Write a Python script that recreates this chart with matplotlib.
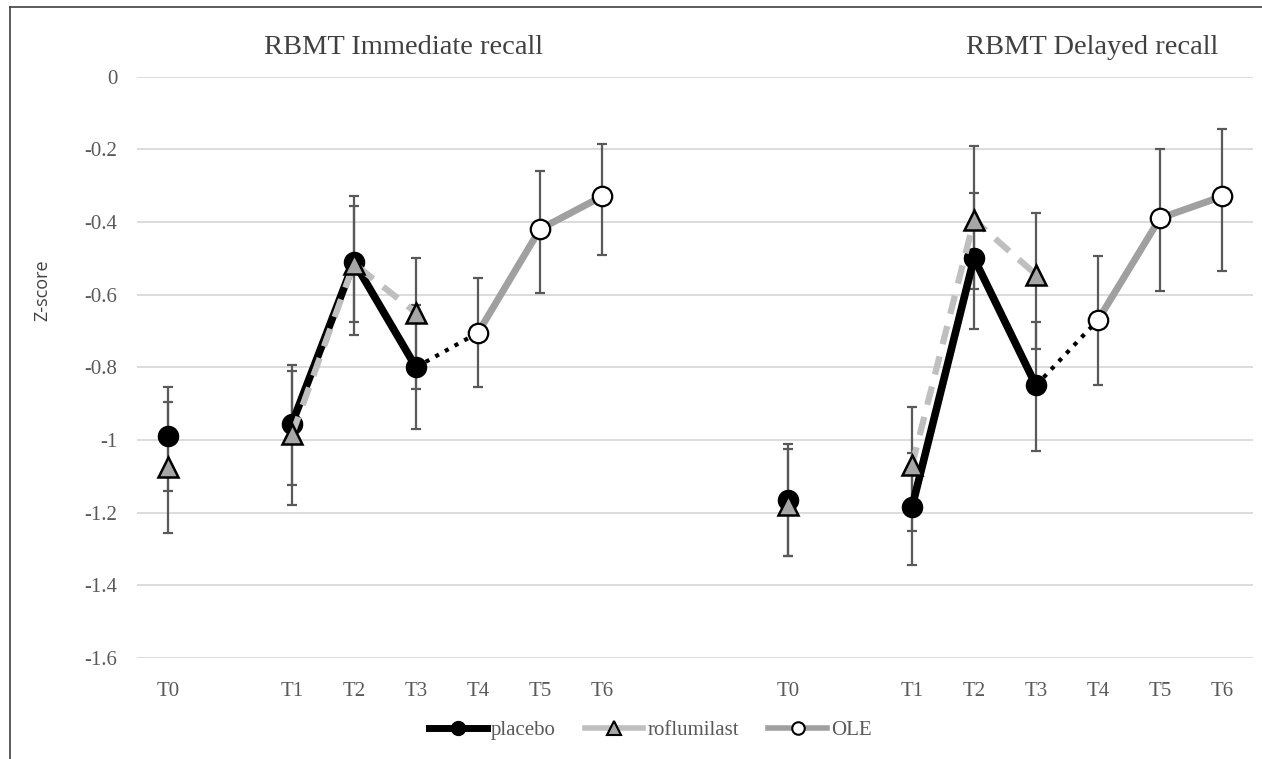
import matplotlib.pyplot as plt
from matplotlib.lines import Line2D

# x slots: T0, empty slot, T1..T6 for each panel
imm_pos = [0, 2, 3, 4, 5, 6, 7]
del_pos = [10, 12, 13, 14, 15, 16, 17]
tick_labels = ['T0', 'T1', 'T2', 'T3', 'T4', 'T5', 'T6']

# RBMT immediate recall (T0..T3 for the RCT arms, T4..T6 for OLE)
imm_placebo = [-0.99, -0.955, -0.51, -0.80]
imm_placebo_lo = [-1.14, -1.125, -0.71, -0.97]
imm_placebo_hi = [-0.855, -0.795, -0.33, -0.63]
imm_roflu = [-1.075, -0.985, -0.515, -0.65]
imm_roflu_lo = [-1.255, -1.18, -0.675, -0.86]
imm_roflu_hi = [-0.895, -0.81, -0.355, -0.50]
imm_ole = [-0.705, -0.42, -0.33]
imm_ole_lo = [-0.855, -0.595, -0.49]
imm_ole_hi = [-0.555, -0.26, -0.185]

# RBMT delayed recall
del_placebo = [-1.165, -1.185, -0.50, -0.85]
del_placebo_lo = [-1.32, -1.345, -0.695, -1.03]
del_placebo_hi = [-1.01, -1.035, -0.32, -0.675]
del_roflu = [-1.18, -1.07, -0.395, -0.545]
del_roflu_lo = [-1.32, -1.25, -0.585, -0.75]
del_roflu_hi = [-1.025, -0.91, -0.19, -0.375]
del_ole = [-0.67, -0.39, -0.33]
del_ole_lo = [-0.85, -0.59, -0.535]
del_ole_hi = [-0.495, -0.20, -0.145]

panel_titles = ['RBMT Immediate recall', 'RBMT Delayed recall']

serif = 'Liberation Serif'
tick_col = '#595959'
err_col = '#595959'
roflu_col = '#bfbfbf'
ole_col = '#a0a0a0'

fig = plt.figure(figsize=(12.62, 7.59), dpi=100)
ax = fig.add_axes([137 / 1262, 1 - 658 / 759, 1116 / 1262, (658 - 76.5) / 759])


def errbars(x, y, lo, hi):
    yerr = [[v - l for v, l in zip(y, lo)], [h - v for v, h in zip(y, hi)]]
    ax.errorbar(x, y, yerr=yerr, fmt='none', ecolor=err_col, elinewidth=1.6,
                capsize=3.8, capthick=1.6, zorder=2)


def draw_panel(pos, placebo, p_lo, p_hi, roflu, r_lo, r_hi, ole, o_lo, o_hi):
    rct_x = pos[:4]
    ole_x = pos[4:]
    errbars(rct_x, placebo, p_lo, p_hi)
    errbars(rct_x, roflu, r_lo, r_hi)
    errbars(ole_x, ole, o_lo, o_hi)

    # placebo: T0 alone, then T1-T3 connected
    ax.plot(rct_x[:1], placebo[:1], 'o', color='black', ms=14.5, zorder=3)
    ax.plot(rct_x[1:], placebo[1:], '-o', color='black', lw=5.5, ms=14.5, zorder=3)
    # roflumilast
    ax.plot(rct_x[:1], roflu[:1], '^', mfc='#a6a6a6', mec='black', mew=1.8, ms=14, zorder=4)
    ax.plot(rct_x[1:], roflu[1:], '--', color=roflu_col, lw=4.5, dashes=(3, 2), zorder=4)
    ax.plot(rct_x[1:], roflu[1:], '^', mfc='#a6a6a6', mec='black', mew=1.8, ms=14, zorder=4.5)
    # dotted bridge from placebo T3 to OLE T4
    ax.plot([rct_x[-1], ole_x[0]], [placebo[-1], ole[0]], ':', color='black', lw=3, zorder=2.5)
    # OLE
    ax.plot(ole_x, ole, '-', color=ole_col, lw=5, zorder=3)
    ax.plot(ole_x, ole, 'o', mfc='white', mec='black', mew=1.6, ms=14, zorder=5)


draw_panel(imm_pos, imm_placebo, imm_placebo_lo, imm_placebo_hi,
           imm_roflu, imm_roflu_lo, imm_roflu_hi, imm_ole, imm_ole_lo, imm_ole_hi)
draw_panel(del_pos, del_placebo, del_placebo_lo, del_placebo_hi,
           del_roflu, del_roflu_lo, del_roflu_hi, del_ole, del_ole_lo, del_ole_hi)

ax.set_xlim(-0.5, 17.5)
ax.set_ylim(-1.6, 0)
ax.set_yticks([0, -0.2, -0.4, -0.6, -0.8, -1, -1.2, -1.4, -1.6])
ax.set_yticklabels(['0', '-0.2', '-0.4', '-0.6', '-0.8', '-1', '-1.2', '-1.4', '-1.6'])
ax.set_xticks(imm_pos + del_pos)
ax.set_xticklabels(tick_labels + tick_labels)
ax.tick_params(length=0, labelsize=15, colors=tick_col)
ax.tick_params(axis='y', pad=14)
ax.tick_params(axis='x', pad=17)
for lbl in ax.get_xticklabels() + ax.get_yticklabels():
    lbl.set_family(serif)
ax.grid(axis='y', color='#d9d9d9', lw=1.3)
ax.set_axisbelow(True)
for s in ax.spines.values():
    s.set_visible(False)

# panel titles
ax.text(3.8, 1.05, panel_titles[0], transform=ax.get_xaxis_transform(),
        ha='center', va='center', fontsize=20.5, family=serif, color='#404040')
ax.text(14.9, 1.05, panel_titles[1], transform=ax.get_xaxis_transform(),
        ha='center', va='center', fontsize=20.5, family=serif, color='#404040')

fig.text(42 / 1262, 1 - 290 / 759, 'Z-score', rotation=90, ha='center', va='center',
         fontsize=13, family='Open Sans', color='#404040')

handles = [
    Line2D([], [], color='black', lw=5, marker='o', ms=10),
    Line2D([], [], color=roflu_col, lw=4, marker='^', ms=10, mfc='#a6a6a6', mec='black', mew=1.5),
    Line2D([], [], color=ole_col, lw=4, marker='o', ms=9, mfc='white', mec='black', mew=1.5),
]
leg = fig.legend(handles, ['placebo', 'roflumilast', 'OLE'], loc='center',
                 bbox_to_anchor=(650 / 1262, 1 - 730 / 759), ncol=3, frameon=False,
                 handlelength=2.8, handletextpad=0.2, columnspacing=1.4,
                 prop={'family': serif, 'size': 15})
for t in leg.get_texts():
    t.set_color(tick_col)

# outer border (left and top edges only visible)
fig.add_artist(Line2D([10 / 1262, 10 / 1262], [0, 1 - 7 / 759], transform=fig.transFigure,
                      color='#404040', lw=1.2))
fig.add_artist(Line2D([10 / 1262, 1], [1 - 7 / 759, 1 - 7 / 759], transform=fig.transFigure,
                      color='#404040', lw=1.2))

fig.savefig('out.png', dpi=100)
